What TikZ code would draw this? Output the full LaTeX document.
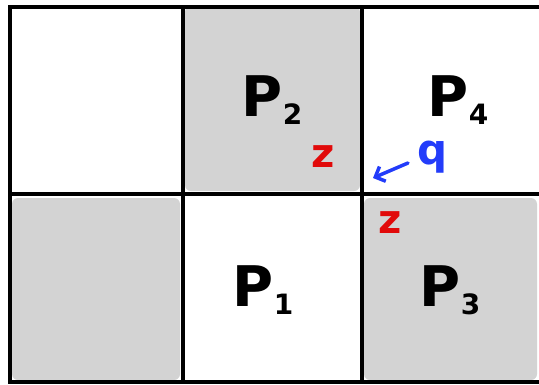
\documentclass[tikz,border=0pt]{standalone}
\usepackage{fontspec}
\setmainfont{DejaVu Sans}
\usetikzlibrary{arrows.meta}
\definecolor{cellgray}{RGB}{211,211,211}
\definecolor{zred}{RGB}{225,10,10}
\definecolor{qblue}{RGB}{35,60,250}
\begin{document}
\begin{tikzpicture}[x=1pt,y=-1pt,
  cell/.style={fill=cellgray,rounded corners=6pt},
  gridline/.style={line width=4pt,black},
  plabel/.style={font=\fontsize{56}{60}\selectfont\bfseries},
  zlabel/.style={text=zred,font=\fontsize{40}{42}\selectfont\bfseries},
  qlabel/.style={text=qblue,font=\fontsize{42}{44}\selectfont\bfseries}]
\useasboundingbox (0,0) rectangle (539,384);
\fill[white] (0,0) rectangle (539,384);
% gray cells
\fill[cell] (185,6) rectangle (360,191);
\fill[cell] (12,198) rectangle (180,380);
\fill[cell] (364,198) rectangle (537,380);
% grid
\draw[gridline] (10,7) rectangle (545,382);
\draw[gridline] (183,7) -- (183,382);
\draw[gridline] (362,7) -- (362,382);
\draw[gridline] (10,194) -- (545,194);
% labels
\node[plabel] (p2) at (272,100) {P\raisebox{-8pt}{\fontsize{28}{30}\selectfont 2}};
\node[plabel] (p4) at (458,100) {P\raisebox{-8pt}{\fontsize{28}{30}\selectfont 4}};
\node[plabel] (p1) at (263,290) {P\raisebox{-8pt}{\fontsize{28}{30}\selectfont 1}};
\node[plabel] (p3) at (450,290) {P\raisebox{-8pt}{\fontsize{28}{30}\selectfont 3}};
\node[zlabel] (z1) at (323,157) {z};
\node[zlabel] (z2) at (390,223) {z};
\node[qlabel] (q) at (433,157) {q};
\coordinate (qa) at (408,163);
\coordinate (qb) at (373,178);
\draw[qblue,line width=3.5pt,line cap=round,-{Straight Barb[length=8pt,width=16pt]}] (qa) -- (qb);
\end{tikzpicture}
\end{document}
